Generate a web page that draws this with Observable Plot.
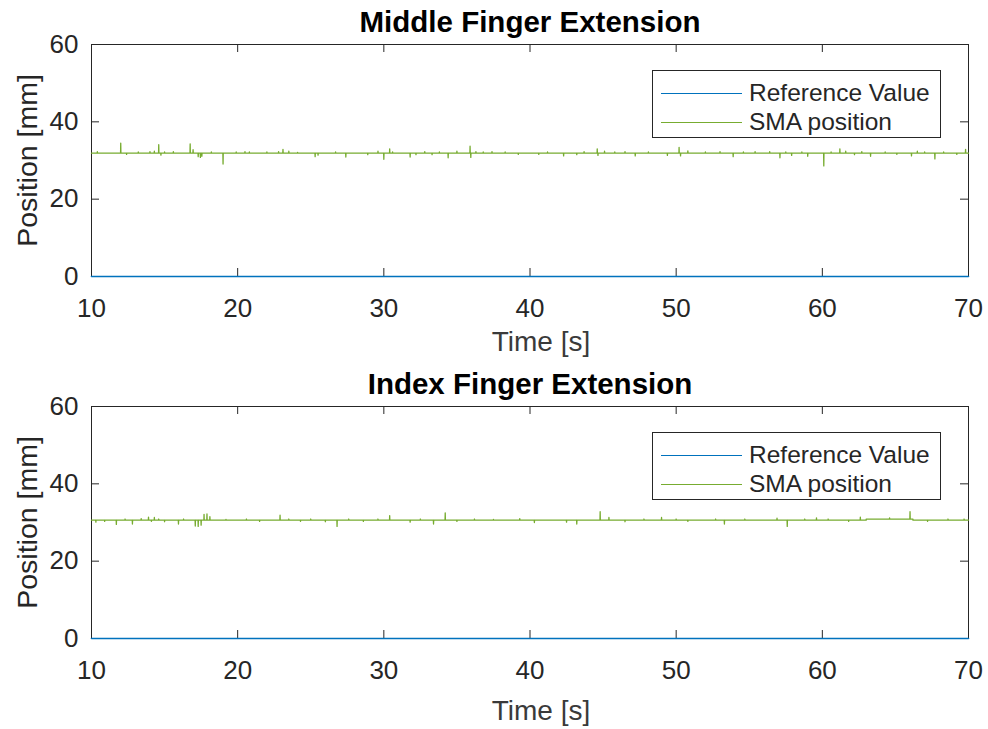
<!DOCTYPE html>
<html><head><meta charset="utf-8">
<script src="https://cdn.jsdelivr.net/npm/d3@7"></script>
<script src="https://cdn.jsdelivr.net/npm/@observablehq/plot@0.6"></script>
<style>
body{margin:0;background:#fff;font-family:"Liberation Sans",Arial,sans-serif;}
#wrap{position:relative;width:988px;height:729px;overflow:hidden;}
.panel{position:absolute;left:0;}
.legend{position:absolute;left:652px;width:287px;height:66px;border:1px solid #262626;background:#fff;font-size:24.5px;color:#262626;}
.row{position:absolute;left:0;width:287px;height:28px;}
.sw{position:absolute;left:8px;width:81px;top:13px;height:0;border-top:1.5px solid;}
.lt{position:absolute;left:96px;top:-1px;line-height:27px;white-space:nowrap;}
</style>
</head><body>
<div id="wrap"></div>
<script>
const xTicks = [10, 20, 30, 40, 50, 60, 70];
const yTicks = [0, 20, 40, 60];
const refTime = [10, 70];
const refValue = [0, 0];
const seriesNames = ["Reference Value", "SMA position"];
const titles = ["Middle Finger Extension", "Index Finger Extension"];

// SMA baseline levels (time, level) and single-sample spikes (time, value)
const middleBase = [[10, 31.9]];
const middleSpikes = [
  [10.4, 32.3], [12.0, 34.5], [12.4, 31.6], [13.2, 32.2], [14.0, 32.3], [14.3, 32.4], [14.6, 34.1], [14.75, 31.4],
  [15.0, 32.2], [15.6, 32.3], [16.75, 34.3], [16.95, 32.8], [17.3, 31.0], [17.45, 30.8], [17.55, 31.1], [18.2, 32.2],
  [19.0, 29.1], [19.9, 32.2], [20.5, 32.3], [20.8, 32.2], [22.0, 32.2], [22.8, 32.3], [23.1, 32.9], [23.5, 32.4],
  [24.1, 32.1], [25.3, 31.0], [25.5, 31.4], [26.7, 32.2], [27.4, 30.9], [28.9, 31.5], [29.6, 32.4], [30.0, 30.3],
  [30.4, 33.0], [30.6, 32.2], [31.8, 30.9], [32.2, 31.5], [32.8, 32.3], [33.3, 31.5], [33.8, 32.2], [34.4, 30.7],
  [35.0, 32.4], [35.9, 33.7], [35.95, 30.8], [36.3, 32.3], [36.8, 32.2], [37.4, 32.3], [38.3, 32.2], [39.2, 31.6],
  [40.6, 31.6], [41.2, 32.2], [42.3, 31.2], [43.2, 31.5], [43.7, 32.3], [44.6, 33.0], [44.65, 31.3], [45.1, 32.4],
  [45.8, 32.2], [46.5, 32.3], [47.2, 31.2], [48.1, 32.2], [49.4, 31.3], [50.2, 33.4], [50.3, 31.2], [50.8, 32.5],
  [52.0, 32.2], [53.0, 32.3], [53.9, 31.0], [54.6, 32.2], [55.4, 32.3], [56.4, 32.3], [57.1, 30.7], [57.5, 32.2],
  [57.9, 31.3], [58.6, 32.2], [59.0, 31.1], [60.1, 28.6], [60.6, 32.2], [61.2, 33.0], [61.6, 32.4], [62.2, 31.5],
  [62.7, 32.3], [63.3, 31.1], [64.3, 32.2], [65.1, 31.6], [66.1, 31.2], [66.5, 32.4], [67.0, 32.2], [67.7, 30.4],
  [68.3, 32.2], [69.2, 31.6], [69.8, 32.9]
];
const indexBase = [[10, 30.6], [63.0, 30.85], [66.2, 30.6]];
const indexSpikes = [
  [10.3, 30.1], [10.9, 30.3], [11.7, 29.5], [12.3, 30.9], [12.8, 29.6], [13.4, 31.0], [13.9, 31.4], [14.1, 30.3],
  [14.3, 31.3], [14.6, 30.9], [15.0, 30.2], [15.95, 29.6], [16.3, 30.9], [17.1, 29.1], [17.3, 29.0], [17.5, 29.3],
  [17.7, 32.1], [17.9, 32.2], [18.1, 31.5], [19.2, 30.8], [20.6, 30.9], [21.5, 30.3], [22.9, 31.9], [23.5, 30.9],
  [24.3, 30.3], [25.0, 30.9], [26.0, 30.2], [26.8, 29.0], [27.6, 30.9], [28.6, 30.3], [29.6, 30.9], [30.4, 31.8],
  [31.8, 30.1], [32.5, 30.9], [33.4, 29.6], [34.2, 32.5], [35.0, 30.3], [36.2, 30.9], [37.5, 30.8], [39.3, 31.0],
  [40.3, 30.0], [42.5, 30.1], [43.2, 29.6], [44.8, 32.8], [45.4, 31.3], [46.5, 30.2], [47.8, 30.9], [49.0, 31.3],
  [50.0, 30.9], [50.8, 30.3], [52.7, 30.9], [53.3, 29.6], [54.7, 30.9], [56.9, 31.1], [57.6, 29.0], [58.8, 30.9],
  [59.6, 31.2], [60.4, 30.9], [61.8, 30.3], [62.6, 31.4], [64.6, 31.2], [66.0, 32.8], [67.2, 30.3], [68.6, 30.9],
  [69.7, 30.9]
];

function buildSeries(base, spikes) {
  const levelAt = t => { let l = base[0][1]; for (const [bt, bv] of base) if (bt <= t) l = bv; return l; };
  const ev = [];
  for (const [bt] of base) ev.push({t: bt, kind: "b"});
  for (const [st, sv] of spikes) ev.push({t: st, kind: "s", v: sv});
  ev.sort((a, b) => a.t - b.t);
  const pts = [];
  const w = 0.012;
  for (const e of ev) {
    if (e.kind === "b") {
      if (pts.length) pts.push({t: e.t, v: pts[pts.length - 1].v});
      pts.push({t: e.t, v: levelAt(e.t)});
    } else {
      const l = levelAt(e.t);
      pts.push({t: e.t - w, v: l}, {t: e.t, v: e.v}, {t: e.t + w, v: l});
    }
  }
  pts.push({t: 70, v: levelAt(70)});
  return pts;
}

const refData = refTime.map((t, i) => ({t, v: refValue[i]}));

function panel(title, base, spikes, xLabelOffset) {
  const sma = buildSeries(base, spikes);
  return Plot.plot({
    width: 988, height: 367,
    marginTop: 44, marginBottom: 91, marginLeft: 91, marginRight: 20,
    x: {domain: [10, 70]},
    y: {domain: [0, 60]},
    style: {fontFamily: "'Liberation Sans', Arial, sans-serif", fontSize: "26px", color: "#262626", background: "transparent", overflow: "visible"},
    marks: [
      Plot.frame({stroke: "#262626", strokeWidth: 1}),
      Plot.axisX(xTicks, {tickSize: 0, tickPadding: 22, label: null, fontSize: 26, fill: "#262626"}),
      Plot.axisY(yTicks, {tickSize: 0, tickPadding: 13, label: null, fontSize: 26, fill: "#262626"}),
      Plot.tickY(yTicks, {y: d => d, insetRight: 869, stroke: "#262626"}),
      Plot.tickY(yTicks, {y: d => d, insetLeft: 869, stroke: "#262626"}),
      Plot.tickX(xTicks, {x: d => d, insetTop: 224, stroke: "#262626"}),
      Plot.tickX(xTicks, {x: d => d, insetBottom: 224, stroke: "#262626"}),
      Plot.line(sma, {x: "t", y: "v", stroke: "#77AC30", strokeWidth: 1.3}),
      Plot.line(refData, {x: "t", y: "v", stroke: "#0072BD", strokeWidth: 1.6}),
      Plot.text([title], {text: d => d, frameAnchor: "top", lineAnchor: "middle", textAnchor: "middle", dy: -22, fontWeight: "bold", fontSize: 29.5, fill: "#000"}),
      Plot.text(["Time [s]"], {text: d => d, frameAnchor: "bottom", lineAnchor: "middle", textAnchor: "middle", dx: 11, dy: xLabelOffset, fontSize: 28, fill: "#3a3a3a"}),
      Plot.text(["Position [mm]"], {text: d => d, frameAnchor: "left", lineAnchor: "middle", textAnchor: "middle", dx: -64, rotate: -90, fontSize: 28.5, fill: "#262626"})
    ]
  });
}

function legend(top) {
  const div = document.createElement("div");
  div.className = "legend";
  div.style.top = top + "px";
  const colors = ["#0072BD", "#77AC30"];
  seriesNames.forEach((n, i) => {
    const r = document.createElement("div");
    r.className = "row";
    r.style.top = (9 + i * 29) + "px";
    r.innerHTML = `<div class="sw" style="border-color:${colors[i]}"></div><div class="lt">${n}</div>`;
    div.appendChild(r);
  });
  return div;
}

const wrap = document.getElementById("wrap");
const tops = [0, 362];
const labelOffsets = [66, 73];
const bases = [middleBase, indexBase];
const spikeSets = [middleSpikes, indexSpikes];
titles.forEach((t, i) => {
  const p = panel(t, bases[i], spikeSets[i], labelOffsets[i]);
  p.classList.add("panel");
  p.style.position = "absolute";
  p.style.top = tops[i] + "px";
  wrap.appendChild(p);
  wrap.appendChild(legend(tops[i] + 70));
});
</script>
</body></html>
